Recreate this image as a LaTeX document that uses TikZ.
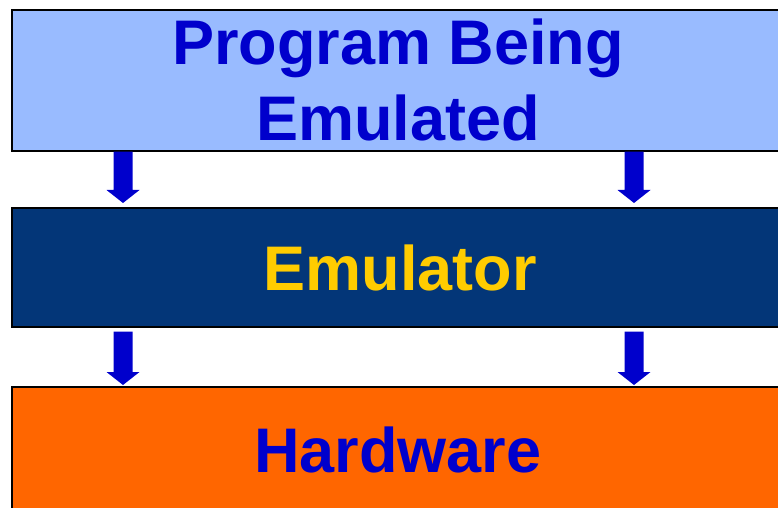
\documentclass[tikz,border=0pt]{standalone}
\usepackage{fontspec}
\setmainfont{Liberation Sans}
\usetikzlibrary{calc}
\definecolor{layerlight}{RGB}{153,187,255}
\definecolor{layernavy}{RGB}{3,54,120}
\definecolor{layerorange}{RGB}{255,102,0}
\definecolor{labelblue}{RGB}{0,0,204}
\definecolor{labelyellow}{RGB}{255,204,0}
\tikzset{
  layer/.style={draw=black, line width=1.6bp, minimum width=779bp, inner sep=0pt, anchor=north west},
  layertext/.style={font=\bfseries\fontsize{63bp}{76bp}\selectfont, anchor=base, inner sep=0pt, align=center},
  flow/.style={fill=labelblue},
}
% block arrow: shaft 19bp wide, head 33bp wide and 13bp long
\newcommand\blockarrow[2]{%
  \fill[flow] let \p1=(#1), \p2=(#2) in
    (\x1-9.5bp,\y1) -- (\x1+9.5bp,\y1) -- (\x1+9.5bp,\y2+13bp) --
    (\x1+16.5bp,\y2+13bp) -- (\x2,\y2) -- (\x1-16.5bp,\y2+13bp) --
    (\x1-9.5bp,\y2+13bp) -- cycle;}
\begin{document}
\begin{tikzpicture}[x=1bp,y=-1bp]
  \useasboundingbox (0,0) rectangle (778,508);
  \begin{scope}
    \clip (0,0) rectangle (778,508);
    % the three layers
    \node[layer, fill=layerlight, minimum height=141bp] (program) at (11,9) {};
    \node[layer, fill=layernavy, minimum height=119bp] (emulator) at (11,207) {};
    \node[layer, fill=layerorange, minimum height=140bp] (hardware) at (11,386) {};
    % captions
    \node[layertext, text=labelblue] (programA) at (398,65) {Program Being};
    \node[layertext, text=labelblue] (programB) at (398,141) {Emulated};
    \node[layertext, text=labelyellow] (emulatorT) at (400,291) {Emulator};
    \node[layertext, text=labelblue] (hardwareT) at (398,472) {Hardware};
    % arrow end points on the layer edges
    \coordinate (a1s) at ($(program.south west)+(112,0)$);
    \coordinate (a1e) at ($(emulator.north west)+(112,-4)$);
    \coordinate (a2s) at ($(program.south west)+(623,0)$);
    \coordinate (a2e) at ($(emulator.north west)+(623,-4)$);
    \coordinate (a3s) at ($(emulator.south west)+(112,4)$);
    \coordinate (a3e) at ($(hardware.north west)+(112,-1)$);
    \coordinate (a4s) at ($(emulator.south west)+(623,4)$);
    \coordinate (a4e) at ($(hardware.north west)+(623,-1)$);
    \blockarrow{a1s}{a1e}
    \blockarrow{a2s}{a2e}
    \blockarrow{a3s}{a3e}
    \blockarrow{a4s}{a4e}
  \end{scope}
\end{tikzpicture}
\end{document}
